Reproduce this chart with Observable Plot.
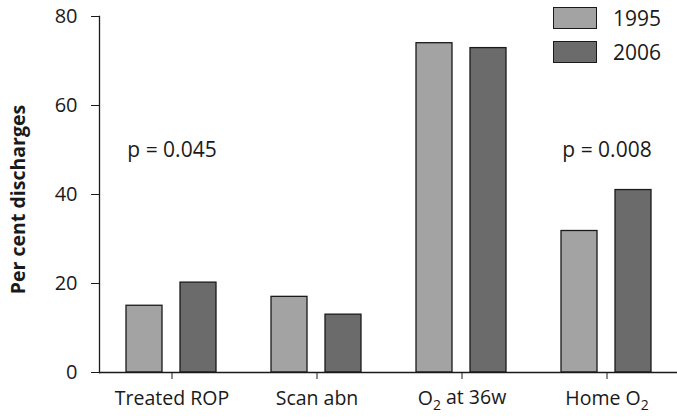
<!DOCTYPE html>
<html>
<head>
<meta charset="utf-8">
<script src="https://cdn.jsdelivr.net/npm/d3@7"></script>
<script src="https://cdn.jsdelivr.net/npm/@observablehq/plot@0.6"></script>
<style>
  html, body { margin: 0; padding: 0; background: #fff; }
  #wrap { position: relative; width: 677px; height: 419px; font-family: "Open Sans", sans-serif; color: #1a1a1a; }
  #legend { position: absolute; left: 553px; top: 7px; }
  .item { display: flex; align-items: center; height: 22px; margin-bottom: 12px; }
  .sw { width: 44px; height: 22px; border: 1.3px solid #1a1a1a; box-sizing: border-box; }
  .lb { margin-left: 16px; font-size: 21px; }
</style>
</head>
<body>
<div id="wrap">
  <div id="chart"></div>
  <div id="legend"></div>
</div>
<script>
const categories = ["Treated ROP", "Scan abn", "O2 at 36w", "Home O2"];
const years = ["1995", "2006"];
const values1995 = [15, 17, 74, 31.8];
const values2006 = [20.2, 13, 72.9, 41];
const yTicks = [0, 20, 40, 60, 80];
const yTitle = "Per cent discharges";
const pLabels = [{cat: "Treated ROP", y: 50, text: "p = 0.045"}, {cat: "Home O2", y: 50, text: "p = 0.008"}];
const colors = ["#a3a3a3", "#6b6b6b"];

const data = [];
categories.forEach((c, i) => {
  data.push({cat: c, year: years[0], value: values1995[i]});
  data.push({cat: c, year: years[1], value: values2006[i]});
});

const chart = Plot.plot({
  width: 677,
  height: 419,
  marginLeft: 97,
  marginRight: -3,
  marginTop: 16,
  marginBottom: 47,
  style: {fontFamily: "'Open Sans', sans-serif", fontSize: "20px", color: "#1a1a1a", background: "#fff"},
  fx: {domain: categories, padding: 0, label: null},
  x: {domain: years, paddingInner: 0.33, paddingOuter: 0.49, axis: null},
  y: {domain: [0, 80], label: null},
  color: {domain: years, range: colors},
  marks: [
    Plot.barY(data, {fx: "cat", x: "year", y: "value", fill: "year", stroke: "#1a1a1a", strokeWidth: 1.3}),
    Plot.ruleY([0], {stroke: "#1a1a1a", strokeWidth: 1.3}),
    Plot.frame({anchor: "left", facetAnchor: "left", stroke: "#1a1a1a", strokeWidth: 1.3}),
    Plot.axisY({ticks: yTicks, tickSize: 8, tickPadding: 14, fontSize: 20, stroke: "#1a1a1a", label: null}),
    Plot.axisFx({anchor: "bottom", tickSize: 7, tickPadding: 12, fontSize: 19.5, label: null}),
    Plot.text([{cat: categories[0]}], {fx: "cat", text: () => yTitle, frameAnchor: "left", textAnchor: "middle",
      rotate: -90, dx: -81, dy: 5, fontSize: 19.5, fontWeight: "bold", fill: "#1a1a1a"}),
    Plot.text(pLabels, {fx: "cat", y: "y", text: "text", fontSize: 21, fill: "#1a1a1a"})
  ]
});
document.getElementById("chart").appendChild(chart);

// subscripts for O2
d3.select(chart).selectAll("text").each(function() {
  const t = this.textContent;
  if (t.includes("O2") && this.children.length === 0) {
    const idx = t.indexOf("O2");
    const before = t.slice(0, idx + 1), after = t.slice(idx + 2);
    const sel = d3.select(this);
    sel.text(null);
    sel.append("tspan").text(before);
    sel.append("tspan").attr("dy", "0.3em").attr("font-size", "14px").text("2");
    if (after) sel.append("tspan").attr("dy", "-0.3em").text(after);
  }
});

// legend
const legend = d3.select("#legend");
years.forEach((y, i) => {
  const it = legend.append("div").attr("class", "item");
  it.append("div").attr("class", "sw").style("background", colors[i]);
  it.append("div").attr("class", "lb").text(y);
});
</script>
</body>
</html>
